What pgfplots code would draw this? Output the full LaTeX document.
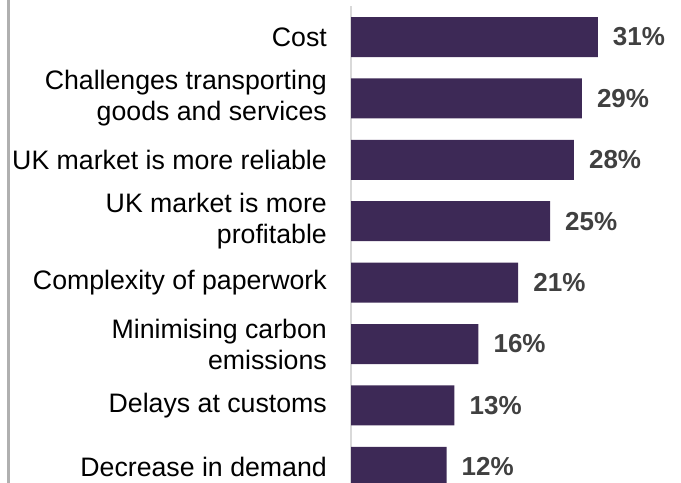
\documentclass[border=0pt]{standalone}
\usepackage{pgfplots}
\pgfplotsset{compat=1.18}
\usepackage{fontspec}
\setmainfont{Liberation Sans}
\definecolor{barpurple}{RGB}{61,41,86}
\definecolor{valgrey}{RGB}{64,64,64}
\definecolor{axisgrey}{RGB}{217,217,217}
\definecolor{leftgrey}{RGB}{176,176,176}
\begin{document}
\begin{tikzpicture}
\useasboundingbox (0,0) rectangle (681bp,483bp);
\clip (0,0) rectangle (681bp,483bp);
\draw[line width=3bp, leftgrey] (8.5bp,0) -- (8.5bp,483bp);
\begin{axis}[
  at={(351bp,-14.5bp)}, anchor=south west,
  scale only axis,
  width=318.4bp, height=491.2bp,
  xbar, bar width=40bp,
  xmin=0, xmax=40,
  ymin=-0.5, ymax=7.5,
  y dir=reverse,
  axis x line=none,
  axis y line*=left,
  y axis line style={axisgrey, line width=1.2bp},
  ytick={0,1,2,3,4,5,6,7},
  yticklabels={Cost,{Challenges transporting\\goods and services},UK market is more reliable,{UK market is more\\profitable},Complexity of paperwork,{Minimising carbon\\emissions},Delays at customs,Decrease in demand},
  major tick length=0pt,
  yticklabel style={align=right, anchor=east, inner sep=0pt, xshift=-24bp, text=black, font=\fontsize{26.7bp}{31bp}\selectfont},
  point meta=x,
  nodes near coords={\pgfmathprintnumber[assume math mode=true]{\pgfplotspointmeta}\%},
  nodes near coords style={anchor=west, inner sep=0pt, xshift=15bp, text=valgrey, font=\fontsize{26bp}{31bp}\selectfont\bfseries},
]
\addplot[fill=barpurple, draw=none] coordinates {
(31,0) (29,1) (28,2) (25,3) (21,4) (16,5) (13,6) (12,7)
};
\end{axis}
\end{tikzpicture}
\end{document}
